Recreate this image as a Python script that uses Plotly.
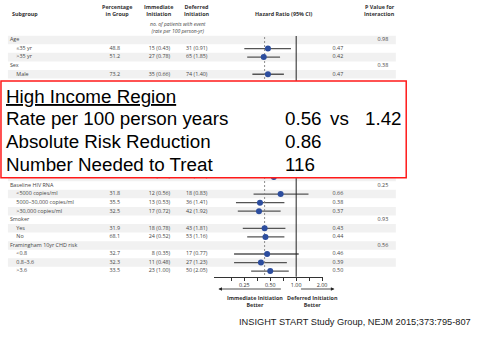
import plotly.graph_objects as go

W, H = 479, 341

# ---------------- data (28 rows; rows 5-15 are hidden under the overlay box) -------------
subgroups = ["Age", "≤35 yr", ">35 yr", "Sex", "Male",
             "", "", "", "", "", "", "", "", "", "", "",
             "≥600 cells/mm³",
             "Baseline HIV RNA", "<5000 copies/ml", "5000–30,000 copies/ml", ">30,000 copies/ml",
             "Smoker", "Yes", "No",
             "Framingham 10yr CHD risk", "<0.8", "0.8–3.6", ">3.6"]
is_group = [True, False, False, True, False] + [False] * 11 + [False] + \
           [True, False, False, False, True, False, False, True, False, False, False]
pct = ["", "48.8", "51.2", "", "73.2"] + [""] * 11 + ["60.8"] + \
      ["", "31.8", "35.5", "32.5", "", "31.9", "68.1", "", "32.7", "32.3", "33.5"]
immediate = ["", "15 (0.43)", "27 (0.78)", "", "35 (0.66)"] + [""] * 11 + ["8 (0.40)"] + \
            ["", "12 (0.56)", "13 (0.53)", "17 (0.72)", "", "18 (0.78)", "24 (0.52)", "",
             "8 (0.35)", "11 (0.48)", "23 (1.00)"]
deferred = ["", "31 (0.91)", "65 (1.85)", "", "74 (1.40)"] + [""] * 11 + ["44 (1.45)"] + \
           ["", "18 (0.83)", "36 (1.41)", "42 (1.92)", "", "43 (1.81)", "53 (1.16)", "",
            "17 (0.77)", "27 (1.23)", "50 (2.05)"]
hr = [None, 0.47, 0.42, None, 0.47] + [None] * 11 + [0.55] + \
     [None, 0.66, 0.38, 0.37, None, 0.43, 0.44, None, 0.46, 0.39, 0.50]
ci_low = [None, 0.25, 0.27, None, 0.31] + [None] * 11 + [0.31] + \
         [None, 0.32, 0.20, 0.21, None, 0.24, 0.27, None, 0.19, 0.19, 0.30]
ci_high = [None, 0.87, 0.65, None, 0.72] + [None] * 11 + [0.98] + \
          [None, 1.39, 0.73, 0.66, None, 0.75, 0.73, None, 1.07, 0.78, 0.82]
hr_text = ["", "0.47", "0.42", "", "0.47"] + [""] * 11 + ["0.55"] + \
          ["", "0.66", "0.38", "0.37", "", "0.43", "0.44", "", "0.46", "0.39", "0.50"]
p_interaction = ["0.98", "", "", "0.38", ""] + [""] * 11 + [""] + \
                ["0.25", "", "", "", "0.93", "", "", "0.56", "", "", ""]
overall_hr = 0.43
tick_vals = [0.177, 0.25, 0.354, 0.5, 0.707, 1.0, 1.414, 2.0]
tick_text = ["", "0.25", "", "0.50", "", "1.00", "", "2.00"]

box_title = "High Income Region"
box_labels = ["Rate per 100 person years", "Absolute Risk Reduction", "Number Needed to Treat"]
box_values = ["0.56", "0.86", "116"]
rate_deferred = "1.42"
source = "INSIGHT START Study Group, NEJM 2015;373:795-807"

# ---------------- layout helpers ----------------
ROW0, ROWH = 40.0, 8.56          # pixel y of first row and row pitch
n = len(subgroups)
rows = list(range(n))
TXT = "#454545"
FONT = "Open Sans"
FS = 5.4


def px(x):
    return x / W


def py(y):
    return 1 - y / H


def yrow(ypix):
    return (ypix - ROW0) / ROWH


fig = go.Figure()

# ---------------- forest plot (log axis) ----------------
lx, ly = [], []
for i in rows:
    if hr[i] is not None:
        lx += [ci_low[i], ci_high[i], None]
        ly += [i, i, None]
fig.add_trace(go.Scatter(x=lx, y=ly, mode="lines", line=dict(color="#555555", width=1.3),
                         hoverinfo="skip", showlegend=False, xaxis="x", yaxis="y"))
fig.add_trace(go.Scatter(x=[1, 1], y=[yrow(36), yrow(276.7)], mode="lines",
                         line=dict(color="#222222", width=1), hoverinfo="skip",
                         showlegend=False, xaxis="x", yaxis="y"))
fig.add_trace(go.Scatter(x=[overall_hr, overall_hr], y=[yrow(37), yrow(276.7)], mode="lines",
                         line=dict(color="#808080", width=0.9, dash="2px,2px"), hoverinfo="skip",
                         showlegend=False, xaxis="x", yaxis="y"))
mx = [hr[i] for i in rows if hr[i] is not None]
my = [i for i in rows if hr[i] is not None]
fig.add_trace(go.Scatter(x=mx, y=my, mode="markers",
                         marker=dict(color="#2c4d9e", size=6, line=dict(width=0)),
                         hoverinfo="skip", showlegend=False, xaxis="x", yaxis="y"))

# ---------------- table text (below the overlay box) ----------------
def text_col(xpos, texts, position, ys=None):
    ys = rows if ys is None else ys
    fig.add_trace(go.Scatter(x=[xpos] * len(texts), y=ys, mode="text", text=texts,
                             textposition=position,
                             textfont=dict(family=FONT, size=FS, color=TXT),
                             hoverinfo="skip", showlegend=False, xaxis="x2", yaxis="y",
                             cliponaxis=False))


group_lbl = [s if g else "" for s, g in zip(subgroups, is_group)]
sub_lbl = [s if not g else "" for s, g in zip(subgroups, is_group)]
text_col(10, group_lbl, "middle right")
text_col(16.5, sub_lbl, "middle right")
text_col(116, pct, "middle center")
text_col(172, immediate, "middle left")
text_col(188, deferred, "middle right")
text_col(341.5, hr_text, "middle center")
text_col(387, p_interaction, "middle center")

# ---------------- shapes ----------------
shapes = []
for i in rows:
    if i % 2 == 0:
        shapes.append(dict(type="rect", xref="paper", yref="y", x0=px(8), x1=px(400),
                           y0=i - 0.5, y1=i + 0.5, fillcolor="#f1f1f1",
                           line=dict(width=0), layer="below"))
shapes.append(dict(type="rect", xref="paper", yref="paper", x0=px(1), x1=px(410.5),
                   y0=py(177.7), y1=py(81), fillcolor="white",
                   line=dict(color="#ff1a1a", width=1.5), layer="above"))

# ---------------- annotations ----------------
ann = []


def add_text(x, y, text, size=FS, color=TXT, xanchor="center", align="center", family=FONT):
    ann.append(dict(x=px(x), y=py(y), xref="paper", yref="paper", text=text, showarrow=False,
                    xanchor=xanchor, yanchor="middle", align=align,
                    font=dict(family=family, size=size, color=color)))


HC = "#333333"
add_text(10, 14, "<b>Subgroup</b>", color=HC, xanchor="left", align="left")
add_text(118, 10.3, "<b>Percentage<br>in Group</b>", color=HC)
add_text(160, 10.3, "<b>Immediate<br>Initiation</b>", color=HC)
add_text(199, 10.3, "<b>Deferred<br>Initiation</b>", color=HC)
add_text(180, 27.8, "<i>no. of patients with event<br>(rate per 100 person-yr)</i>", size=5.0)
add_text(287, 14, "<b>Hazard Ratio (95% CI)</b>", color=HC)
add_text(401, 10.3, "<b>P Value for<br>Interaction</b>", color=HC, xanchor="right", align="right")
add_text(258, 301.3, "<b>Immediate Initiation<br>Better</b>", color=HC)
add_text(316, 301.3, "<b>Deferred Initiation<br>Better</b>", color=HC)

# arrows
ann.append(dict(x=px(220.7), y=py(289), xref="paper", yref="paper", ax=64, ay=0, text="",
                showarrow=True, arrowhead=2, arrowsize=0.9, arrowwidth=0.8, arrowcolor="#222"))
ann.append(dict(x=px(338), y=py(289), xref="paper", yref="paper", ax=-35, ay=0, text="",
                showarrow=True, arrowhead=2, arrowsize=0.9, arrowwidth=0.8, arrowcolor="#222"))

# overlay box text
BF = "Liberation Sans"
BS = 18.8
add_text(4, 96.7, "<u>" + box_title + "</u>", size=BS, color="black", xanchor="left",
         align="left", family=BF)
for k, (lab, val) in enumerate(zip(box_labels, box_values)):
    yy = 118.7 + k * 22.7
    add_text(4, yy, lab, size=BS, color="black", xanchor="left", align="left", family=BF)
    add_text(286, yy, val, size=BS, color="black", xanchor="left", align="left", family=BF)
add_text(331.5, 118.7, "vs", size=BS, color="black", xanchor="left", align="left", family=BF)
add_text(366.5, 118.7, rate_deferred, size=BS, color="black", xanchor="left", align="left", family=BF)

add_text(239.5, 322.3, source, size=9.25, color="#1a1a1a", xanchor="left", align="left", family=BF)

fig.update_layout(
    width=W, height=H, margin=dict(l=0, r=0, t=0, b=0),
    paper_bgcolor="white", plot_bgcolor="rgba(0,0,0,0)",
    showlegend=False, shapes=shapes, annotations=ann,
    xaxis=dict(type="log", domain=[px(216.7), px(326)], range=[-0.949, 0.3068],
               anchor="free", position=py(276.7), showline=True, linecolor="#333",
               linewidth=1, ticks="outside", ticklen=3, tickwidth=0.8, tickcolor="#333",
               tickvals=tick_vals, ticktext=tick_text,
               tickfont=dict(family=FONT, size=FS, color="#333"),
               showgrid=False, zeroline=False, fixedrange=True),
    xaxis2=dict(domain=[0, 1], range=[0, W], visible=False, anchor="y", fixedrange=True),
    yaxis=dict(domain=[0, 1], range=[(H - ROW0) / ROWH, -ROW0 / ROWH], visible=False,
               fixedrange=True),
)

fig.write_html("out.html", config={"displayModeBar": False},
               post_script="document.body.style.margin='0';document.body.style.overflow='hidden';")
